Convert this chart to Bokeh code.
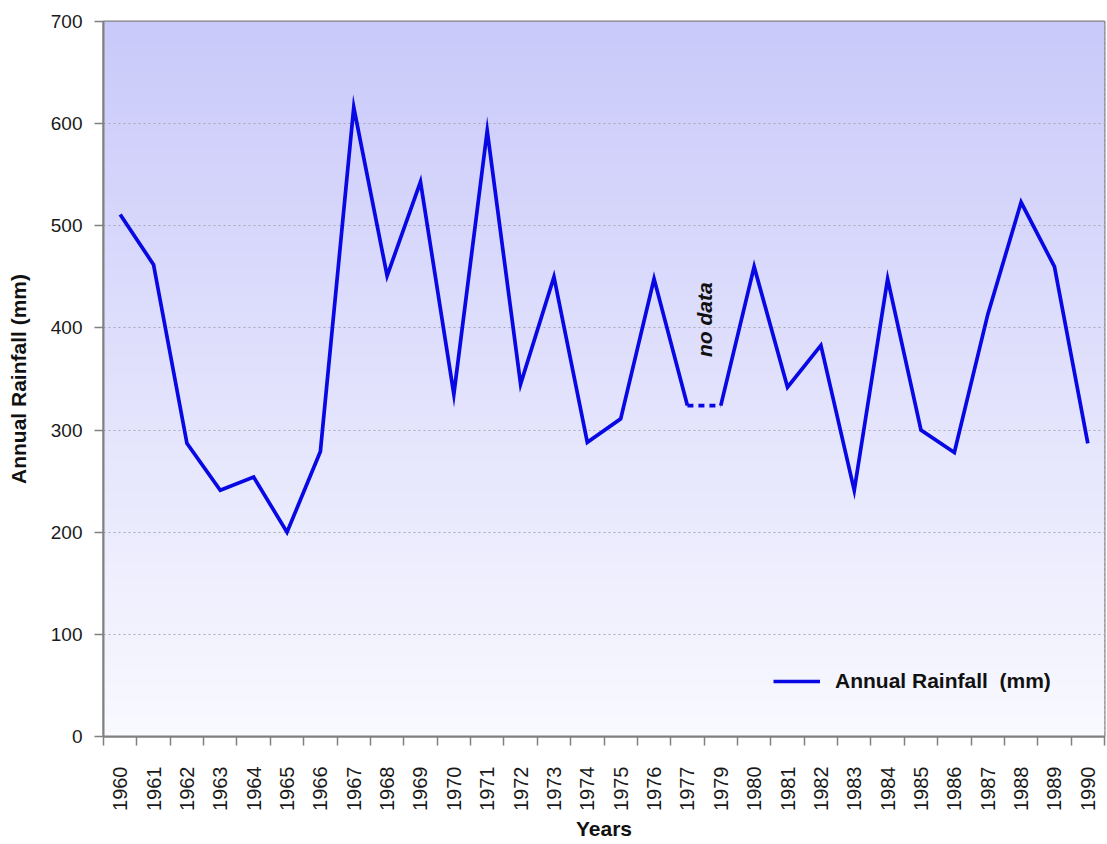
import math
from bokeh.plotting import figure
from bokeh.models import Range1d, FixedTicker, BoxAnnotation, Legend, LegendItem, Label
from bokeh.embed import file_html
from bokeh.resources import INLINE

# ---- data ----
years = ["1960", "1961", "1962", "1963", "1964", "1965", "1966", "1967", "1968", "1969",
         "1970", "1971", "1972", "1973", "1974", "1975", "1976", "1977",
         "1979", "1980", "1981", "1982", "1983", "1984", "1985", "1986", "1987", "1988",
         "1989", "1990"]
rainfall = [511, 462, 287, 241, 254, 200, 279, 616, 451, 543,
            335, 593, 345, 450, 288, 311, 448, 324,
            324, 460, 342, 383, 241, 448, 300, 278, 413, 523,
            460, 287]
gap_after = "1977"          # no data for 1978
y_ticks = [0, 100, 200, 300, 400, 500, 600, 700]
series_name = "Annual Rainfall  (mm)"
note_text = "no data"
note_value = 408

FONT = "Liberation Sans"
LINE_COLOR = "#0808e4"

n = len(years)
xc = [i + 0.5 for i in range(n)]
g = years.index(gap_after)

p = figure(width=1106, height=843, output_backend="svg", toolbar_location=None,
           x_range=Range1d(0, n), y_range=Range1d(0, 700),
           min_border_left=103, min_border_right=2, min_border_top=21, min_border_bottom=107)
p.border_fill_color = "white"
p.background_fill_color = "#e0e0fa"
p.outline_line_color = "#808080"
p.outline_line_width = 2

# vertical gradient background
steps = 140
top_c = (201, 201, 250)
bot_c = (249, 249, 255)
for k in range(steps):
    y0 = 700 * k / steps
    y1 = 700 * (k + 1) / steps
    t = (y0 + y1) / 2 / 700
    c = tuple(int(round(bot_c[j] + (top_c[j] - bot_c[j]) * t)) for j in range(3))
    p.add_layout(BoxAnnotation(bottom=y0, top=min(700, y1 + 2), fill_color="#%02x%02x%02x" % c,
                               fill_alpha=1, line_color=None, level="image"))

# lines
r1 = p.line(xc[:g + 1], rainfall[:g + 1], line_color=LINE_COLOR, line_width=3.7, line_join="miter")
p.line(xc[g + 1:], rainfall[g + 1:], line_color=LINE_COLOR, line_width=3.7, line_join="miter")
p.line(xc[g:g + 2], rainfall[g:g + 2], line_color=LINE_COLOR, line_width=3.7, line_dash="6 5")

# note
p.add_layout(Label(x=(xc[g] + xc[g + 1]) / 2, y=note_value, text=note_text, angle=math.pi / 2,
                   text_align="center", text_baseline="middle", text_font=FONT,
                   text_font_style="bold italic", text_font_size="21px", text_color="#111111"))

# grid
p.xgrid.grid_line_color = None
p.ygrid.ticker = FixedTicker(ticks=y_ticks)
p.ygrid.grid_line_color = "#a8a8b8"
p.ygrid.grid_line_dash = "2 3"
p.ygrid.grid_line_width = 1

# x axis
xa = p.xaxis[0]
xa.ticker = FixedTicker(ticks=xc, minor_ticks=list(range(n + 1)))
xa.major_label_overrides = {x: y for x, y in zip(xc, years)}
xa.major_label_orientation = math.pi / 2
xa.major_tick_line_color = None
xa.major_tick_out = 0
xa.major_tick_in = 0
xa.minor_tick_out = 9
xa.minor_tick_in = 0
xa.minor_tick_line_color = "#808080"
xa.minor_tick_line_width = 1.5
xa.major_label_standoff = 21
xa.axis_label = "Years"
xa.axis_label_standoff = 3

# y axis
ya = p.yaxis[0]
ya.ticker = FixedTicker(ticks=y_ticks)
ya.major_tick_out = 9
ya.major_tick_in = 0
ya.minor_tick_out = 0
ya.minor_tick_in = 0
ya.major_tick_line_color = "#808080"
ya.major_tick_line_width = 1.5
ya.major_label_standoff = 12
ya.axis_label = "Annual Rainfall (mm)"
ya.axis_label_standoff = 18

for ax in (xa, ya):
    ax.axis_line_color = "#808080"
    ax.axis_line_width = 2
    ax.major_label_text_font = FONT
    ax.major_label_text_color = "#1a1a1a"
    ax.axis_label_text_font = FONT
    ax.axis_label_text_font_style = "bold"
    ax.axis_label_text_font_size = "21px"
    ax.axis_label_text_color = "#111111"
xa.major_label_text_font_size = "20px"
ya.major_label_text_font_size = "19px"

legend = Legend(items=[LegendItem(label=series_name, renderers=[r1])], location=(670, 43),
                border_line_color=None, background_fill_alpha=0, padding=0, margin=0,
                glyph_width=47, glyph_height=22, label_height=22, label_standoff=15,
                label_text_font=FONT, label_text_font_style="bold", label_text_font_size="21px",
                label_text_color="#111111")
p.add_layout(legend)

open("out.html", "w").write(file_html(p, INLINE))
